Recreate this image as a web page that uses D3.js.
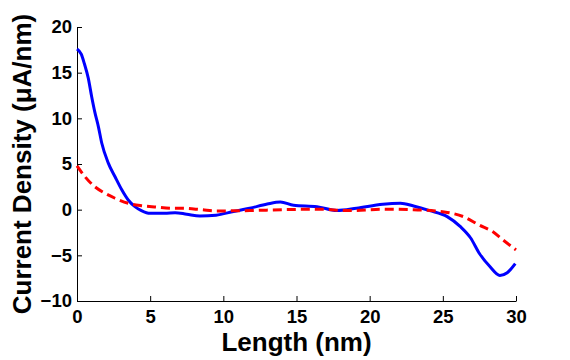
<!DOCTYPE html>
<html>
<head>
<meta charset="utf-8">
<script src="https://cdn.jsdelivr.net/npm/d3@7"></script>
<style>
  body { margin: 0; background: #fff; }
  svg { display: block; }
  text { font-family: "Liberation Sans", Arial, sans-serif; font-weight: bold; }
</style>
</head>
<body>
<svg id="drawing_region"></svg>
<script>
// blue solid curve: length (nm), current density (uA/nm)
const blueX = [0, 0.3, 0.5, 0.77, 1.0, 1.23, 1.46, 1.69, 2.14, 2.6, 3.05, 3.5, 3.96, 4.4, 5.0, 6.0, 6.7, 7.5, 8.4, 9.5,
               10.7, 11.8, 13.0, 13.9, 14.8, 16.4, 17.75, 19.1, 20.9, 22.1, 23.0, 24.1, 25.3, 26.2, 26.9, 27.5, 28.2, 28.9, 29.4, 29.95];
const blueY = [17.6, 17.0, 16.0, 14.4, 12.4, 10.6, 9.1, 7.3, 5.1, 3.6, 2.2, 1.06, 0.33, -0.1, -0.4, -0.4, -0.33, -0.5, -0.69, -0.6,
               -0.2, 0.15, 0.62, 0.84, 0.48, 0.33, -0.1, 0.15, 0.6, 0.7, 0.4, -0.1, -0.76, -1.86, -3.1, -4.8, -6.2, -7.2, -6.9, -5.9];

// red dashed curve
const redX = [0, 0.55, 1.23, 1.91, 2.6, 3.5, 4.4, 5.3, 6.7, 7.25, 8.5, 9.55, 11.8, 14.1, 16.4, 18.7, 20.9, 23.0, 24.5, 25.3,
              26.4, 27.5, 28.4, 29.1, 30];
const redY = [4.8, 3.6, 2.5, 1.8, 1.25, 0.7, 0.44, 0.3, 0.15, 0.15, 0.0, -0.14, -0.1, 0.0, 0.05, -0.1, 0.05, 0.0, -0.15, -0.3,
              -0.76, -1.7, -2.4, -3.3, -4.4];

const xTicks = [0, 5, 10, 15, 20, 25, 30];
const yTicks = [-10, -5, 0, 5, 10, 15, 20];

const config = {
    width: 570,
    height: 360,
    margin: {top: 27, right: 54, bottom: 59, left: 77}
};

const svg = d3.select('#drawing_region')
    .attr('width', config.width)
    .attr('height', config.height);

const inner_width = config.width - config.margin.left - config.margin.right;
const inner_height = config.height - config.margin.top - config.margin.bottom;

const chart = svg.append('g')
    .attr('transform', `translate(${config.margin.left}, ${config.margin.top})`);

const xscale = d3.scaleLinear().domain([0, 30]).range([0, inner_width]);
const yscale = d3.scaleLinear().domain([-10, 20]).range([inner_height, 0]);

const xaxis = d3.axisBottom(xscale).tickValues(xTicks).tickSizeInner(-5).tickSizeOuter(0).tickPadding(9);
const yaxis = d3.axisLeft(yscale).tickValues(yTicks).tickSizeInner(-5).tickSizeOuter(0).tickPadding(5);

const xaxis_group = chart.append('g')
    .attr('transform', `translate(0, ${inner_height})`)
    .call(xaxis);

const yaxis_group = chart.append('g')
    .call(yaxis);

[xaxis_group, yaxis_group].forEach(g => {
    g.attr('font-family', null).attr('font-size', null);
    g.selectAll('text').style('font-size', '18.5px').attr('fill', '#000');
    g.selectAll('line').attr('stroke', '#000');
    g.select('.domain').attr('stroke', '#000');
});

const line = d3.line()
    .x(d => xscale(d[0]))
    .y(d => yscale(d[1]))
    .curve(d3.curveMonotoneX);

const blue = blueX.map((x, i) => [x, blueY[i]]);
const red = redX.map((x, i) => [x, redY[i]]);

chart.append('path')
    .datum(blue)
    .attr('d', line)
    .attr('fill', 'none')
    .attr('stroke', '#0000ff')
    .attr('stroke-width', 3);

chart.append('path')
    .datum(red)
    .attr('d', line)
    .attr('fill', 'none')
    .attr('stroke', '#ff0000')
    .attr('stroke-width', 3)
    .attr('stroke-dasharray', '9,5');

// axis labels
svg.append('text')
    .attr('x', config.margin.left + inner_width / 2)
    .attr('y', 351)
    .attr('text-anchor', 'middle')
    .style('font-size', '26px')
    .text('Length (nm)');

svg.append('text')
    .attr('transform', `translate(31, ${config.margin.top + inner_height / 2}) rotate(-90)`)
    .attr('text-anchor', 'middle')
    .style('font-size', '26px')
    .text('Current Density (μA/nm)');
</script>
</body>
</html>
